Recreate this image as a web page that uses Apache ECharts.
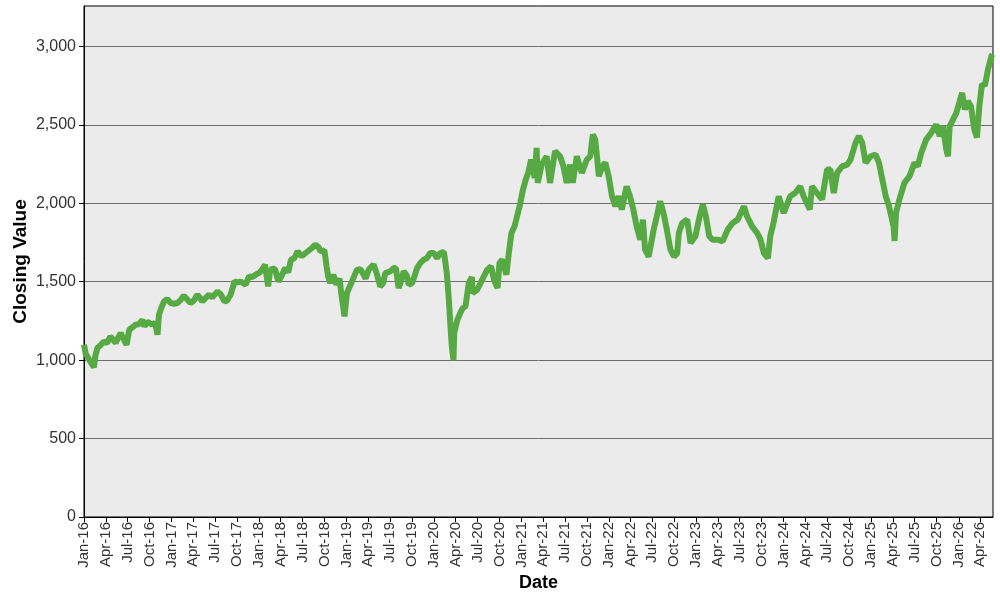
<!DOCTYPE html>
<html>
<head>
<meta charset="utf-8">
<script src="https://cdn.jsdelivr.net/npm/echarts@6/dist/echarts.min.js"></script>
<style>
  html, body { margin: 0; padding: 0; background: #fff; }
  #chart { width: 1000px; height: 600px; }
</style>
</head>
<body>
<div id="chart"></div>
<script>
// closing values
const dates = [
  '2016-01-01','2016-01-08','2016-01-20','2016-02-11','2016-02-18','2016-02-26','2016-03-10','2016-03-24','2016-04-07','2016-04-20',
  '2016-05-02','2016-05-12','2016-05-25','2016-06-02','2016-06-13','2016-06-27','2016-07-08','2016-07-22','2016-08-04','2016-08-18',
  '2016-09-01','2016-09-09','2016-09-22','2016-10-12','2016-10-24','2016-11-03','2016-11-09','2016-11-18','2016-11-30','2016-12-13',
  '2016-12-28','2017-01-12','2017-01-25','2017-02-08','2017-02-21','2017-03-01','2017-03-21','2017-04-04','2017-04-18','2017-04-28',
  '2017-05-09','2017-05-22','2017-06-06','2017-06-20','2017-07-11','2017-07-25','2017-08-10','2017-08-21','2017-09-04','2017-09-21',
  '2017-10-05','2017-10-16','2017-11-06','2017-11-20','2017-12-04','2017-12-18','2018-01-05','2018-01-19','2018-01-26','2018-02-08',
  '2018-02-15','2018-02-26','2018-03-09','2018-03-23','2018-04-06','2018-04-20','2018-05-03','2018-05-14','2018-05-28','2018-06-11',
  '2018-06-28','2018-07-12','2018-07-20','2018-08-10','2018-08-24','2018-09-07','2018-09-14','2018-10-01','2018-10-10','2018-10-17',
  '2018-10-26','2018-11-07','2018-11-20','2018-12-03','2018-12-10','2018-12-24','2019-01-03','2019-01-24','2019-02-14','2019-02-28',
  '2019-03-14','2019-03-22','2019-04-04','2019-04-24','2019-05-06','2019-05-22','2019-06-03','2019-06-12','2019-07-03','2019-07-17',
  '2019-07-26','2019-08-07','2019-08-16','2019-08-28','2019-09-10','2019-09-18','2019-10-02','2019-10-11','2019-10-23','2019-11-05',
  '2019-11-19','2019-12-03','2019-12-17','2020-01-01','2020-01-14','2020-01-28','2020-02-12','2020-02-19','2020-02-24','2020-03-04',
  '2020-03-09','2020-03-16','2020-03-23','2020-03-26','2020-04-08','2020-04-20','2020-04-30','2020-05-12','2020-05-26','2020-06-08',
  '2020-06-11','2020-06-30','2020-07-21','2020-08-11','2020-08-27','2020-09-08','2020-09-23','2020-10-01','2020-10-13','2020-10-30',
  '2020-11-09','2020-11-20','2020-12-03','2020-12-24','2021-01-07','2021-01-21','2021-01-29','2021-02-10','2021-02-25','2021-03-05',
  '2021-03-10','2021-03-26','2021-04-16','2021-04-30','2021-05-21','2021-06-11','2021-06-25','2021-07-09','2021-07-23','2021-08-03',
  '2021-08-20','2021-09-10','2021-10-01','2021-10-15','2021-10-26','2021-11-05','2021-11-12','2021-11-20','2021-12-04','2021-12-17',
  '2021-12-31','2022-01-14','2022-01-28','2022-02-11','2022-02-24','2022-03-16','2022-03-30','2022-04-13','2022-04-27','2022-05-12',
  '2022-05-23','2022-06-01','2022-06-16','2022-07-07','2022-07-20','2022-08-03','2022-08-17','2022-08-31','2022-09-15','2022-09-30',
  '2022-10-13','2022-10-20','2022-11-03','2022-11-24','2022-12-08','2022-12-28','2023-01-15','2023-01-28','2023-02-10','2023-02-24',
  '2023-03-10','2023-03-31','2023-04-21','2023-05-12','2023-06-02','2023-06-23','2023-07-19','2023-08-01','2023-08-22','2023-09-12',
  '2023-09-26','2023-10-10','2023-10-27','2023-11-06','2023-11-20','2023-12-11','2024-01-01','2024-01-28','2024-02-18','2024-03-10',
  '2024-03-24','2024-04-19','2024-04-28','2024-05-19','2024-06-09','2024-06-30','2024-07-14','2024-07-28','2024-08-11','2024-09-01',
  '2024-09-22','2024-10-06','2024-10-27','2024-11-10','2024-11-24','2024-12-08','2024-12-29','2025-01-19','2025-02-02','2025-02-16',
  '2025-03-02','2025-03-16','2025-04-04','2025-04-08','2025-04-14','2025-04-28','2025-05-19','2025-06-09','2025-06-30','2025-07-14',
  '2025-07-28','2025-08-18','2025-09-08','2025-09-29','2025-10-13','2025-10-27','2025-11-10','2025-11-17','2025-11-24','2025-12-08',
  '2025-12-22','2026-01-05','2026-01-15','2026-01-26','2026-02-08','2026-02-21','2026-03-07','2026-03-18','2026-03-28','2026-04-08',
  '2026-04-20','2026-05-04','2026-05-18','2026-05-22'
];
const closes = [
  1098,1040,1010,955,1030,1077,1095,1119,1110,1151,
  1130,1109,1150,1172,1140,1098,1194,1210,1226,1230,
  1257,1215,1245,1226,1240,1162,1289,1330,1374,1390,
  1364,1360,1364,1385,1411,1420,1364,1380,1417,1400,
  1374,1395,1417,1400,1438,1420,1374,1380,1417,1502,
  1495,1502,1481,1534,1530,1545,1560,1590,1609,1470,
  1560,1587,1577,1502,1540,1587,1560,1640,1650,1694,
  1662,1680,1672,1715,1736,1720,1694,1700,1598,1530,
  1492,1545,1481,1520,1430,1279,1428,1502,1577,1580,
  1545,1520,1577,1609,1560,1470,1490,1555,1566,1587,
  1590,1460,1500,1566,1540,1481,1492,1530,1587,1619,
  1640,1651,1683,1683,1651,1683,1690,1695,1555,1380,
  1250,1087,1000,1172,1257,1300,1330,1343,1492,1530,
  1428,1449,1513,1577,1598,1513,1460,1619,1640,1545,
  1683,1811,1853,1981,2087,2162,2194,2279,2162,2353,
  2130,2247,2300,2130,2332,2300,2236,2130,2247,2130,
  2300,2194,2279,2300,2438,2406,2300,2172,2236,2258,
  2172,2045,1981,2045,1960,2108,2045,1960,1853,1768,
  1896,1704,1660,1832,1917,2013,1938,1832,1704,1660,
  1680,1811,1875,1896,1747,1790,1917,1992,1917,1790,
  1768,1768,1758,1832,1875,1896,1981,1917,1853,1811,
  1768,1683,1650,1790,1880,2045,1938,2045,2066,2108,
  2045,1960,2108,2066,2024,2215,2215,2066,2194,2236,
  2247,2279,2385,2428,2385,2258,2300,2311,2258,2151,
  2045,1981,1850,1760,1938,2024,2130,2172,2258,2236,
  2321,2406,2449,2502,2428,2491,2343,2300,2491,2534,
  2577,2651,2704,2598,2651,2619,2470,2420,2619,2760,
  2750,2860,2940,2950
];

const yTicks = [0, 500, 1000, 1500, 2000, 2500, 3000];
const monthNames = ['Jan','Feb','Mar','Apr','May','Jun','Jul','Aug','Sep','Oct','Nov','Dec'];
// quarter starts used as tick labels: Jan-16 ... Apr-26
const quarterTicks = [];
for (let y = 2016; y <= 2026; y++) {
    for (let m = 0; m < 12; m += 3) {
        const t = Date.UTC(y, m, 1);
        if (t <= Date.UTC(2026, 3, 1)) quarterTicks.push(t);
    }
}

const seriesData = dates.map(function (d, i) {
    return [Date.parse(d), closes[i]];
});

const chart = echarts.init(document.getElementById('chart'), null, { renderer: 'canvas' });

const option = {
    backgroundColor: '#ffffff',
    animation: false,
    grid: {
        left: 84,
        right: 7,
        top: 6,
        bottom: 83,
        show: true,
        backgroundColor: '#ebebeb',
        borderColor: '#000',
        borderWidth: 1
    },
    xAxis: {
        type: 'value',
        min: Date.UTC(2016, 0, 1),
        max: Date.UTC(2026, 4, 24),
        name: 'Date',
        nameLocation: 'middle',
        nameGap: 57,
        nameMoveOverlap: false,
        nameTextStyle: {
            fontFamily: 'Liberation Sans, Arial, sans-serif',
            fontWeight: 'bold',
            fontSize: 18,
            color: '#000'
        },
        axisLine: { lineStyle: { color: '#000', width: 1 } },
        axisTick: {
            show: true,
            length: 5,
            customValues: quarterTicks,
            lineStyle: { color: '#000' }
        },
        axisLabel: {
            customValues: quarterTicks,
            rotate: 90,
            margin: 5,
            fontFamily: 'Liberation Sans, Arial, sans-serif',
            fontSize: 15,
            color: '#333',
            formatter: function (value) {
                const d = new Date(value);
                return monthNames[d.getUTCMonth()] + '-' + String(d.getUTCFullYear()).slice(2);
            }
        },
        splitLine: { show: false }
    },
    yAxis: {
        type: 'value',
        min: 0,
        max: 3258,
        interval: 500,
        name: 'Closing Value',
        nameLocation: 'middle',
        nameGap: 54,
        nameMoveOverlap: false,
        nameTextStyle: {
            fontFamily: 'Liberation Sans, Arial, sans-serif',
            fontWeight: 'bold',
            fontSize: 19,
            color: '#000'
        },
        axisLine: { show: true, lineStyle: { color: '#000', width: 1 } },
        axisTick: { show: true, length: 5, customValues: yTicks, lineStyle: { color: '#000' } },
        axisLabel: {
            margin: 8,
            customValues: yTicks,
            fontFamily: 'Liberation Sans, Arial, sans-serif',
            fontSize: 16,
            color: '#333',
            formatter: function (value) {
                return value.toLocaleString('en-US');
            }
        },
        splitLine: {
            show: true,
            lineStyle: { color: '#6e6e6e', width: 1 }
        }
    },
    series: [{
        name: 'Closing Value',
        type: 'line',
        data: seriesData,
        showSymbol: false,
        symbol: 'none',
        smooth: false,
        lineStyle: { color: '#56a943', width: 6, join: 'bevel' },
        itemStyle: { color: '#56a943' }
    }]
};

chart.setOption(option);
</script>
</body>
</html>
